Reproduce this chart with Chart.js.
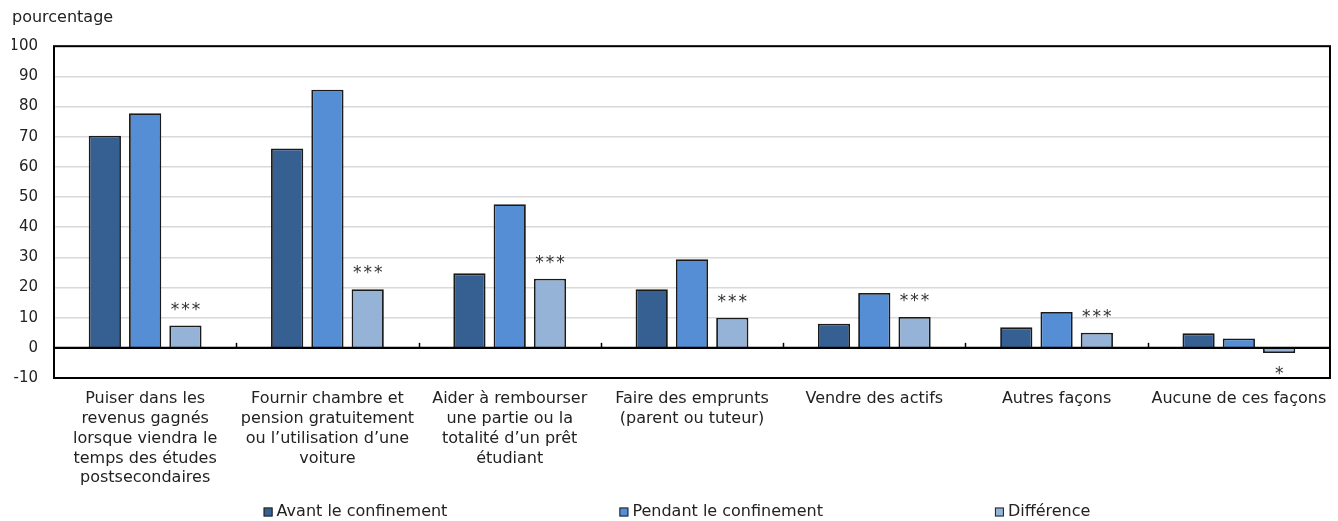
<!DOCTYPE html>
<html lang="fr">
<head>
<meta charset="utf-8">
<script src="https://cdn.jsdelivr.net/npm/chart.js@4.4.1/dist/chart.umd.min.js"></script>
<style>
  html, body { margin: 0; padding: 0; background: #fff; }
  #wrap { width: 1338px; height: 521px; }
</style>
</head>
<body>
<div id="wrap"><canvas id="myChart"></canvas></div>
<script>
// ---- données ----
var categories = [
    ["Puiser dans les", "revenus gagnés", "lorsque viendra le", "temps des études", "postsecondaires"],
    ["Fournir chambre et", "pension gratuitement", "ou l’utilisation d’une", "voiture"],
    ["Aider à rembourser", "une partie ou la", "totalité d’un prêt", "étudiant"],
    ["Faire des emprunts", "(parent ou tuteur)"],
    ["Vendre des actifs"],
    ["Autres façons"],
    ["Aucune de ces façons"]
];
var avant = [70.3, 66.1, 24.7, 19.4, 8.0, 6.8, 4.8];
var pendant = [77.8, 85.6, 47.6, 29.4, 18.2, 11.9, 3.1];
var difference = [7.4, 19.4, 22.9, 10.0, 10.2, 5.0, -1.7];
var signif = ["***", "***", "***", "***", "***", "***", "*"];
var seriesNames = ["Avant le confinement", "Pendant le confinement", "Différence"];
var seriesColors = ["#376092", "#558ED5", "#95B3D7"];
var yMin = -10, yMax = 100, yStep = 10;
var yTitle = "pourcentage";

var FONT = '"DejaVu Sans", Verdana, sans-serif';

// cadre, ligne du zéro, petites marques entre les catégories, astérisques
var decorPlugin = {
    id: 'decor',
    afterDatasetsDraw: function (chart) {
        var ctx = chart.ctx;
        var area = chart.chartArea;
        var xs = chart.scales.x, ys = chart.scales.y;
        var y0 = ys.getPixelForValue(0);
        ctx.save();
        ctx.strokeStyle = '#000';
        ctx.lineWidth = 2.2;
        ctx.beginPath();
        ctx.moveTo(area.left, y0);
        ctx.lineTo(area.right, y0);
        ctx.stroke();
        ctx.lineWidth = 1.5;
        for (var i = 1; i < categories.length; i++) {
            var bx = Math.round((xs.getPixelForValue(i - 1) + xs.getPixelForValue(i)) / 2) + 0.5;
            ctx.beginPath();
            ctx.moveTo(bx, y0);
            ctx.lineTo(bx, y0 - 5);
            ctx.stroke();
        }
        ctx.lineWidth = 2;
        ctx.strokeRect(area.left, area.top, area.right - area.left, area.bottom - area.top);

        // astérisques sur la série Différence
        var meta = chart.getDatasetMeta(2);
        ctx.fillStyle = '#333';
        ctx.font = '17px ' + FONT;
        ctx.letterSpacing = '2px';
        ctx.textAlign = 'center';
        ctx.textBaseline = 'alphabetic';
        meta.data.forEach(function (bar, j) {
            if (!signif[j]) return;
            if (difference[j] >= 0) {
                ctx.fillText(signif[j], bar.x + 1, bar.y - 11);
            } else {
                ctx.fillText(signif[j], bar.x + 1, bar.y + 26);
            }
        });
        ctx.restore();
    }
};

// légende en bas
var legendPlugin = {
    id: 'bottomLegend',
    afterDraw: function (chart) {
        var ctx = chart.ctx;
        var box = 9, gap = 4, spacing = 172;
        ctx.save();
        ctx.font = '16px ' + FONT;
        var widths = seriesNames.map(function (n) { return box + gap + ctx.measureText(n).width; });
        var total = widths.reduce(function (a, b) { return a + b; }, 0) + spacing * (widths.length - 1);
        var x = (chart.width - total) / 2 + 8;
        var y = chart.height - 9;
        ctx.textBaseline = 'middle';
        ctx.textAlign = 'left';
        for (var i = 0; i < seriesNames.length; i++) {
            ctx.fillStyle = seriesColors[i];
            ctx.fillRect(x, y - box / 2, box, box);
            ctx.strokeStyle = '#222';
            ctx.lineWidth = 1;
            ctx.strokeRect(x + 0.5, y - box / 2 + 0.5, box - 1, box - 1);
            ctx.fillStyle = '#222';
            ctx.fillText(seriesNames[i], x + box + gap, y);
            x += widths[i] + spacing;
        }
        ctx.restore();
    }
};

var ctx = document.getElementById("myChart").getContext('2d');
var datasets = [avant, pendant, difference].map(function (vals, i) {
    return {
        label: seriesNames[i],
        data: vals,
        backgroundColor: seriesColors[i],
        borderColor: '#1a1a1a',
        borderWidth: 1.8,
        categoryPercentage: 0.663,
        barPercentage: 0.8
    };
});

var myChart = new Chart(ctx, {
    type: 'bar',
    data: {
        labels: categories,
        datasets: datasets
    },
    options: {
        responsive: true,
        maintainAspectRatio: false,
        animation: false,
        layout: { padding: { left: 12, right: 8, top: 0, bottom: 0 } },
        plugins: {
            legend: { display: false },
            tooltip: { enabled: false },
            title: {
                display: true,
                text: yTitle,
                align: 'start',
                color: '#222',
                font: { family: FONT, size: 16, weight: 'normal' },
                padding: { top: 8, bottom: 19 }
            }
        },
        scales: {
            x: {
                grid: { display: false, drawTicks: false },
                border: { display: false },
                ticks: {
                    autoSkip: false,
                    maxRotation: 0,
                    minRotation: 0,
                    padding: 11,
                    color: '#222',
                    font: { family: FONT, size: 16, lineHeight: 1.24 }
                },
                afterFit: function (scale) { scale.height = 143; }
            },
            y: {
                min: yMin,
                max: yMax,
                grid: {
                    drawTicks: false,
                    color: '#d9d9d9',
                    lineWidth: 1.5
                },
                border: { display: false },
                ticks: {
                    stepSize: yStep,
                    padding: 16,
                    color: '#222',
                    font: { family: FONT, size: 15 }
                },
                afterFit: function (scale) { scale.width = 42; }
            }
        }
    },
    plugins: [decorPlugin, legendPlugin]
});
</script>
</body>
</html>
